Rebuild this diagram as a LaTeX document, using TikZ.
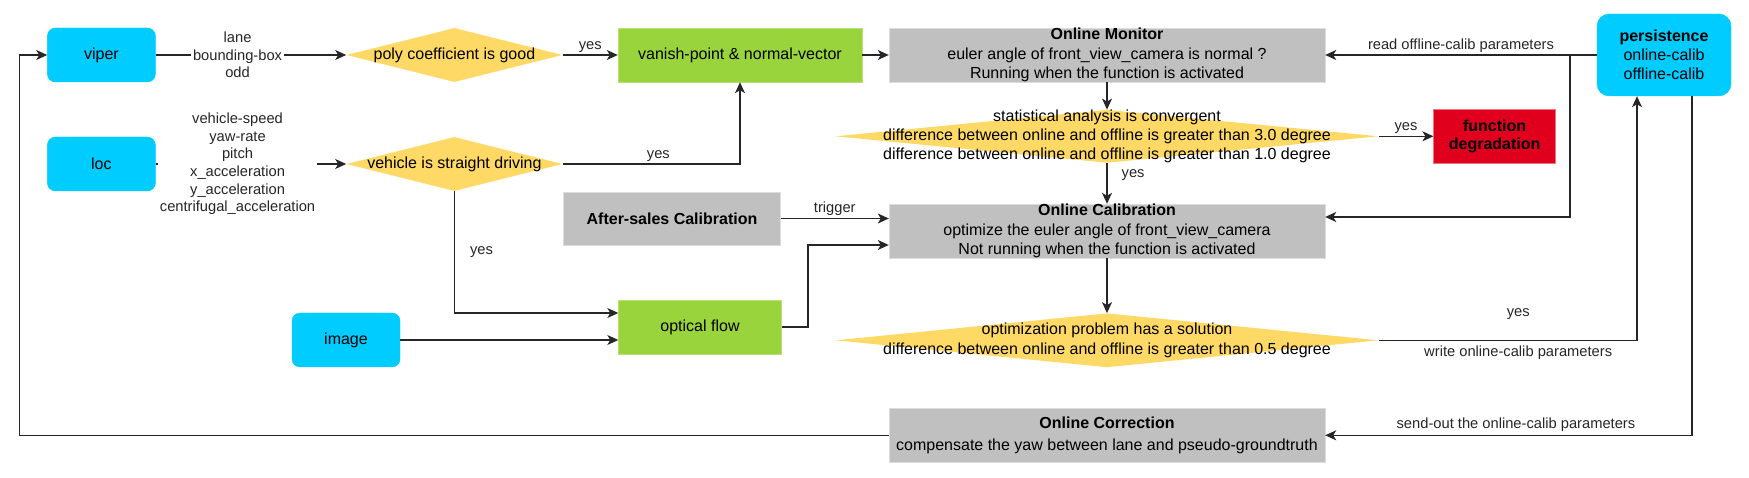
\documentclass[tikz,border=0pt]{standalone}
\usepackage{fontspec}
\setmainfont{Liberation Sans}
\usepackage{tikz}
\usetikzlibrary{shapes.geometric, arrows.meta, positioning, calc}
\usepackage{xcolor}

\definecolor{srccyan}{HTML}{00CCFF}
\definecolor{decyellow}{HTML}{FFD966}
\definecolor{procgreen}{HTML}{99D43D}
\definecolor{stagegray}{HTML}{C0C0C0}
\definecolor{alarmred}{HTML}{E0001E}

\newcommand{\boxfont}{\fontsize{16}{19.2}\selectfont}
\newcommand{\lblfont}{\fontsize{14.7}{17.6}\selectfont}

\begin{document}
\begin{tikzpicture}[
    x=1pt, y=-1pt,
    source/.style = {rectangle, rounded corners=8pt, fill=srccyan, draw=srccyan, inner sep=0pt, minimum height=54pt, align=center, font=\boxfont},
    decision/.style = {diamond, fill=decyellow, inner sep=0pt, minimum height=54pt},
    dtext/.style = {align=center, inner sep=0pt, font=\boxfont},
    process/.style = {rectangle, fill=procgreen, draw=procgreen!70!white, inner sep=0pt, minimum height=54pt, font=\boxfont},
    stage/.style = {rectangle, fill=stagegray, draw=stagegray!55!white, inner sep=0pt, minimum height=54pt, align=center, font=\boxfont},
    alarm/.style = {rectangle, fill=alarmred, draw=alarmred!55!white, inner sep=0pt, minimum height=54pt, align=center, font=\fontsize{16}{17.7}\selectfont},
    flow/.style = {draw=black!85, line width=1.3pt, -{Stealth[length=11pt, width=10pt, inset=3pt]}},
    data/.style = {fill=white, inner sep=2pt, align=center, text=black!85, font=\lblfont},
    note/.style = {inner sep=2pt, text=black!85, font=\lblfont}
]
\useasboundingbox (0,0) rectangle (1749,478);

% Sources
\node (viper) [source, minimum width=108pt] at (101.4, 55) {viper};
\node (loc) [source, minimum width=108pt] at (101.4, 164) {loc};
\node (image) [source, minimum width=108pt] at (346, 340) {image};
\node (persist) [source, rounded corners=12pt, minimum width=134pt, minimum height=82pt] at (1664, 55) {\textbf{persistence}\\online-calib\\offline-calib};

% Checks
\node (poly) [decision, minimum width=216pt] at (454.4, 55) {};
\node (polyT) [dtext] at (poly) {poly coefficient is good};
\node (straight) [decision, minimum width=216pt] at (454.4, 164) {};
\node (straightT) [dtext] at (straight) {vehicle is straight driving};
\node (conv) [decision, minimum width=543pt, minimum height=53pt] at (1107, 136.3) {};
\node (convT) [dtext] at (conv) {statistical analysis is convergent\\difference between online and offline is greater than 3.0 degree\\difference between online and offline is greater than 1.0 degree};
\node (optim) [decision, minimum width=543pt] at (1107, 340.3) {};
\node (optimT) [dtext] at (optim) {optimization problem has a solution\\difference between online and offline is greater than 0.5 degree};

% Features
\node (vanish) [process, minimum width=244pt] at (740, 55) {vanish-point \& normal-vector};
\node (optical) [process, minimum width=163pt] at (700, 327) {optical flow};

% Stages
\node (monitor) [stage, minimum width=436pt] at (1107, 55) {\textbf{Online Monitor}\\euler angle of front\_view\_camera is normal ?\\Running when the function is activated};
\node (aftersales) [stage, minimum width=217pt, minimum height=53pt] at (672, 218.5) {\textbf{After-sales Calibration}};
\node (calib) [stage, minimum width=436pt] at (1107, 231) {\textbf{Online Calibration}\\optimize the euler angle of front\_view\_camera\\Not running when the function is activated};
\node (corr) [stage, minimum width=436pt] at (1107, 435.3) {\textbf{Online Correction}\\[2pt]compensate the yaw between lane and pseudo-groundtruth};
\node (degrade) [alarm, minimum width=122pt] at (1494.6, 136.3) {\textbf{function}\\\textbf{degradation}};

% Bends
\coordinate (loopTop) at (19.5, 55);
\coordinate (ofBend) at (808, 327);
\coordinate (rdJoin) at (1570, 55);

% Inputs to checks
\draw [flow] (viper) -- node (viperData) [data, pos=0.43] {lane\\bounding-box\\odd} (poly);
\draw [flow] (loc) -- node (locData) [data, pos=0.43] {vehicle-speed\\yaw-rate\\pitch\\x\_acceleration\\y\_acceleration\\centrifugal\_acceleration} (straight);

% Checks to features
\draw [flow] (poly) -- node (yesPoly) [note, above] {yes} (vanish);
\draw [flow] (straight.east) -| node (yesStraight) [note, above, pos=0.27] {yes} (vanish.south);
\draw [flow] (straight.south) |- node (yesFlow) [note, right=13pt, pos=0.25] {yes} ([yshift=14pt]optical.west);
\draw [flow] (image) -- (image -| optical.west);

% Features to stages
\draw [flow] (vanish) -- (monitor);
\draw [flow] (optical.east) -- (ofBend) |- ([yshift=-14pt]calib.west);
\draw [flow] (aftersales) -- node (trigger) [note, above] {trigger} (aftersales -| calib.west);

% Monitor and calibration
\draw [flow] (monitor) -- (conv);
\draw [flow] (conv.east) -- node (yesDegrade) [note, above] {yes} (degrade);
\draw [flow] (conv.south) -- node (yesCalib) [note, right=12pt, pos=0.3] {yes} (calib.north);
\draw [flow] (calib) -- (optim);

% Persistence
\draw [flow] (persist.west) -- node (readLbl) [note, above] {read offline-calib parameters} (monitor.east);
\draw [flow] (rdJoin) |- ([yshift=14pt]calib.east);
\draw [flow] (optim.east) -| node (yesWrite) [note, above=18pt, pos=0.27] {yes} node (writeLbl) [note, below=3pt, pos=0.27] {write online-calib parameters} ([xshift=-27pt]persist.south);
\draw [flow] ([xshift=28pt]persist.south) |- node (sendLbl) [note, above=1pt, pos=0.74] {send-out the online-calib parameters} (corr.east);

% Correction loop
\draw [flow] (corr.west) -| (loopTop) -- (viper.west);

\end{tikzpicture}
\end{document}
